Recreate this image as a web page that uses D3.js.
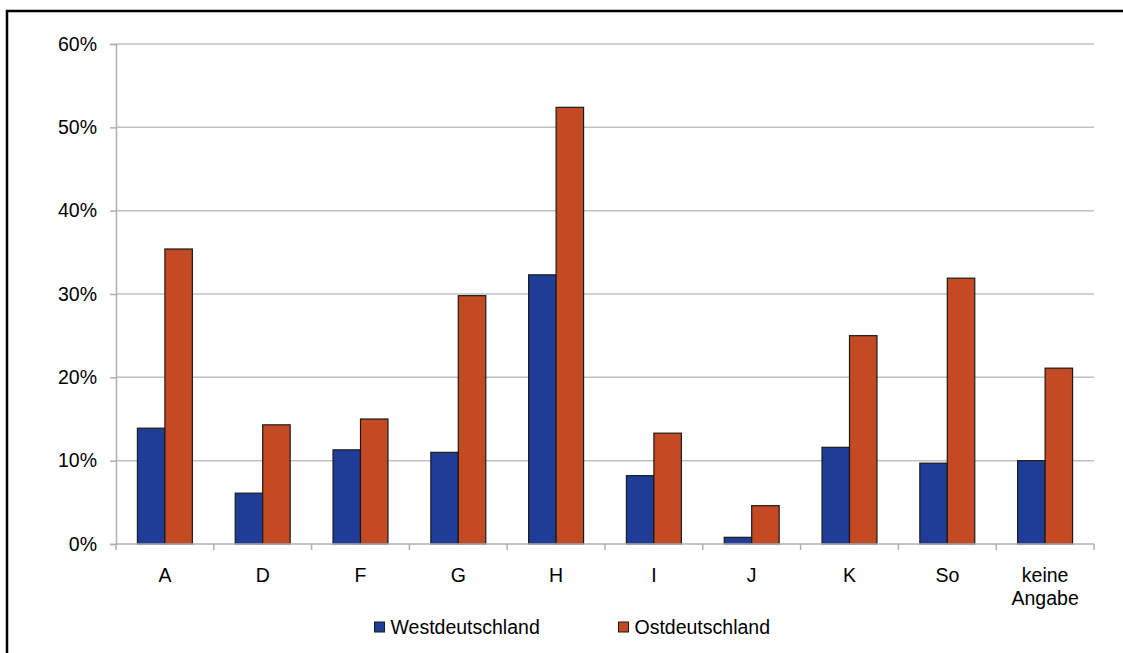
<!DOCTYPE html>
<html><head><meta charset="utf-8">
<script src="https://cdn.jsdelivr.net/npm/d3@7"></script>
<style>body{margin:0;background:#fff;} svg{display:block;font-family:"Liberation Sans",Arial,sans-serif;}</style>
</head><body>
<svg id="c" width="1123" height="653"></svg>
<script>
const categories = ["A","D","F","G","H","I","J","K","So","keine Angabe"];
const west = [13.9, 6.1, 11.3, 11.0, 32.3, 8.2, 0.8, 11.6, 9.7, 10.0];
const ost  = [35.4, 14.3, 15.0, 29.8, 52.4, 13.3, 4.6, 25.0, 31.9, 21.1];
const seriesNames = ["Westdeutschland","Ostdeutschland"];
const yTicks = [0,10,20,30,40,50,60];
const colors = ["#1F3C96","#C34A22"];
const FS = 19.5;

const svg = d3.select("#c");
// outer frame
svg.append("path").attr("d","M7,660 V11 H1130").attr("fill","none").attr("stroke","#000").attr("stroke-width",2.5);

const m = {l:116, r:1094, t:44, b:544};
const x = d3.scaleBand().domain(categories).range([m.l,m.r]).paddingInner(0).paddingOuter(0);
const xs = d3.scaleBand().domain(seriesNames).range([0,x.bandwidth()]).paddingInner(0).paddingOuter(0.78);
const y = d3.scaleLinear().domain([0,60]).range([m.b,m.t]);

// gridlines
svg.append("g").selectAll("line").data(yTicks.filter(d=>d>0)).join("line")
  .attr("x1",m.l).attr("x2",m.r).attr("y1",d=>y(d)).attr("y2",d=>y(d))
  .attr("stroke","#C0C0C0").attr("stroke-width",1.5);

// y axis
const ya = svg.append("g").attr("transform",`translate(${m.l},0)`)
  .call(d3.axisLeft(y).tickValues(yTicks).tickFormat(d=>d+"%").tickSize(6).tickPadding(13));
ya.select(".domain").attr("stroke","#B0B0B0").attr("stroke-width",1.5);
ya.selectAll(".tick line").attr("stroke","#B0B0B0").attr("stroke-width",1.5);
ya.selectAll("text").attr("font-size",FS).attr("fill","#000").attr("font-family","Liberation Sans, Arial, sans-serif");

// bars
const data = categories.map((c,i)=>({c, vals:[west[i],ost[i]]}));
const g = svg.append("g").selectAll("g").data(data).join("g")
  .attr("transform",d=>`translate(${x(d.c)},0)`);
g.selectAll("rect").data(d=>d.vals.map((v,k)=>({k,v}))).join("rect")
  .attr("x",d=>xs(seriesNames[d.k])).attr("width",xs.bandwidth())
  .attr("y",d=>y(d.v)).attr("height",d=>y(0)-y(d.v))
  .attr("fill",d=>colors[d.k]).attr("stroke","#1a1a1a").attr("stroke-width",1.2);

// x axis
const xa = svg.append("g");
xa.append("line").attr("x1",m.l).attr("x2",m.r).attr("y1",m.b).attr("y2",m.b)
  .attr("stroke","#B0B0B0").attr("stroke-width",1.5);
const bounds = categories.map(c=>x(c)).concat([m.r]);
xa.selectAll("line.t").data(bounds).join("line").attr("class","t")
  .attr("x1",d=>d).attr("x2",d=>d).attr("y1",m.b).attr("y2",m.b+6)
  .attr("stroke","#B0B0B0").attr("stroke-width",1.5);
const lab = xa.selectAll("text").data(categories).join("text")
  .attr("text-anchor","middle").attr("font-size",FS).attr("fill","#000")
  .attr("transform",d=>`translate(${x(d)+x.bandwidth()/2},582)`);
lab.each(function(d){
  const words = d.split(" ");
  const t = d3.select(this);
  words.forEach((w,i)=>t.append("tspan").attr("x",0).attr("y",i*23).text(w));
});

// legend
const legX = [374.5, 618.5];
const lg = svg.append("g").selectAll("g").data(seriesNames).join("g")
  .attr("transform",(d,i)=>`translate(${legX[i]},622)`);
lg.append("rect").attr("width",10).attr("height",10).attr("fill",(d,i)=>colors[i])
  .attr("stroke","#1a1a1a").attr("stroke-width",1);
lg.append("text").attr("x",16).attr("y",12).attr("font-size",FS).attr("fill","#000").text(d=>d);
</script>
</body></html>
